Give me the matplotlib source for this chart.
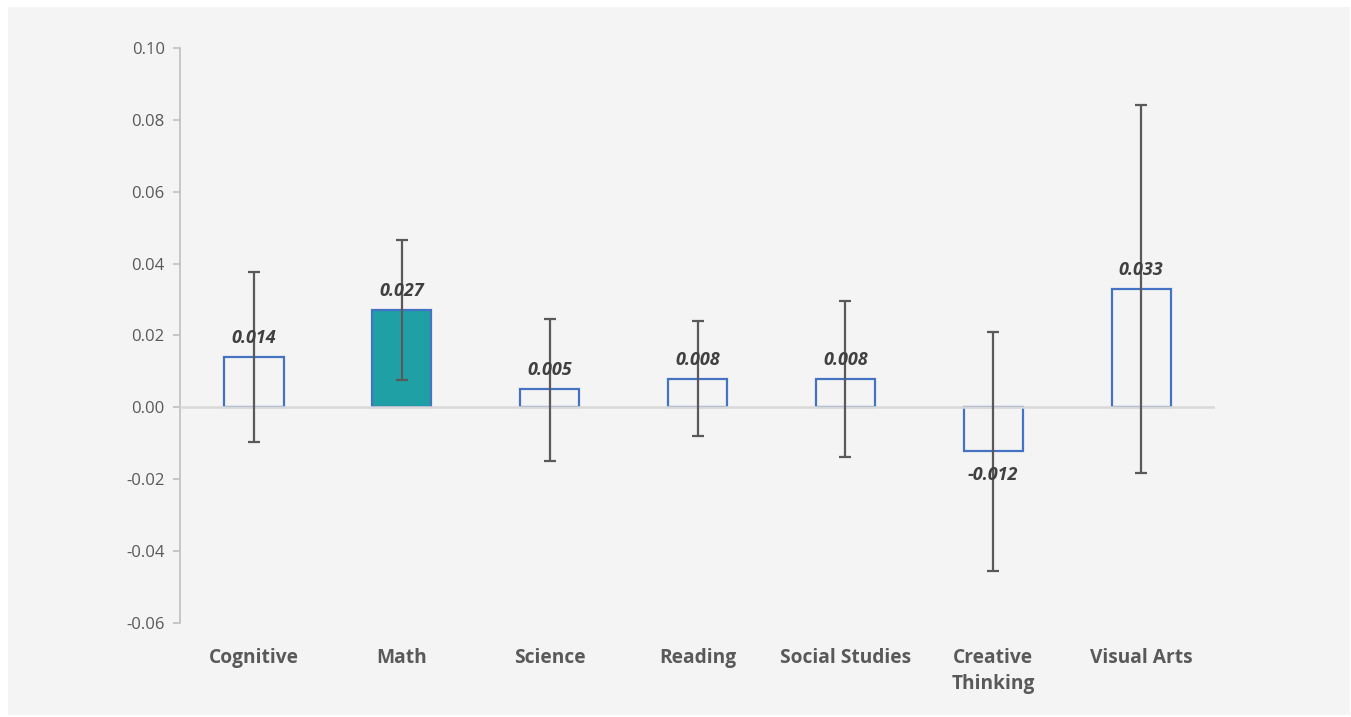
import numpy as np
import matplotlib.pyplot as plt
from matplotlib.patches import Rectangle

# datos
categorias = ["Cognitive", "Math", "Science", "Reading", "Social Studies", "Creative\nThinking", "Visual Arts"]
valores = [0.014, 0.027, 0.005, 0.008, 0.008, -0.012, 0.033]
ic_sup = [0.0376, 0.0466, 0.0245, 0.0239, 0.0296, 0.0211, 0.0841]
ic_inf = [-0.0097, 0.0075, -0.0148, -0.0080, -0.0137, -0.0456, -0.0182]
etiquetas = ["0.014", "0.027", "0.005", "0.008", "0.008", "-0.012", "0.033"]

plt.rcParams['font.family'] = ['Open Sans', 'DejaVu Sans']

fig = plt.figure(figsize=(13.51, 7.17), dpi=100)
fig.patches.append(Rectangle((8/1351, 2/717), 1342/1351, 708/717, transform=fig.transFigure,
                             facecolor='#f4f4f4', edgecolor='none', zorder=-10))
ax = fig.add_axes([180/1351, 1 - 623/717, 1035/1351, 575/717])
ax.set_facecolor('none')

x = np.arange(len(categorias))
colores = ['none'] * len(valores)
colores[1] = '#1fa0a4'
ax.bar(x, valores, width=0.4, color=colores, edgecolor='#4472c4', linewidth=1.6, zorder=2)

err = [np.array(valores) - np.array(ic_inf), np.array(ic_sup) - np.array(valores)]
ax.errorbar(x, valores, yerr=err, fmt='none', ecolor='#595959', elinewidth=1.6,
            capsize=4, capthick=1.6, zorder=4)

ax.axhline(0, color='#d9d9d9', linewidth=1.8, zorder=3)

for i, v in enumerate(valores):
    if v >= 0:
        ax.text(x[i], v + 0.0028, etiquetas[i], ha='center', va='bottom', fontsize=13,
                fontweight='bold', fontstyle='italic', color='#404040', zorder=5)
    else:
        ax.text(x[i], v - 0.0042, etiquetas[i], ha='center', va='top', fontsize=13,
                fontweight='bold', fontstyle='italic', color='#404040', zorder=5)

ax.set_xlim(-0.5, 6.5)
ax.set_ylim(-0.06, 0.10)
ax.set_yticks(np.arange(-0.06, 0.1001, 0.02))
ax.set_yticklabels(["%.2f" % t for t in np.arange(-0.06, 0.1001, 0.02)])
ax.tick_params(axis='y', colors='#bfbfbf', labelcolor='#595959', labelsize=12, length=5, width=1.2, pad=6)

ax.set_xticks(x)
ax.set_xticklabels(categorias, fontsize=13.8, fontweight='bold', color='#595959', linespacing=1.4)
ax.tick_params(axis='x', length=0, pad=18)
ax.xaxis.set_ticks_position('none')

for s in ['top', 'right', 'bottom']:
    ax.spines[s].set_visible(False)
ax.spines['left'].set_color('#bfbfbf')
ax.spines['left'].set_linewidth(1.2)

fig.savefig('out.png', dpi=100)
